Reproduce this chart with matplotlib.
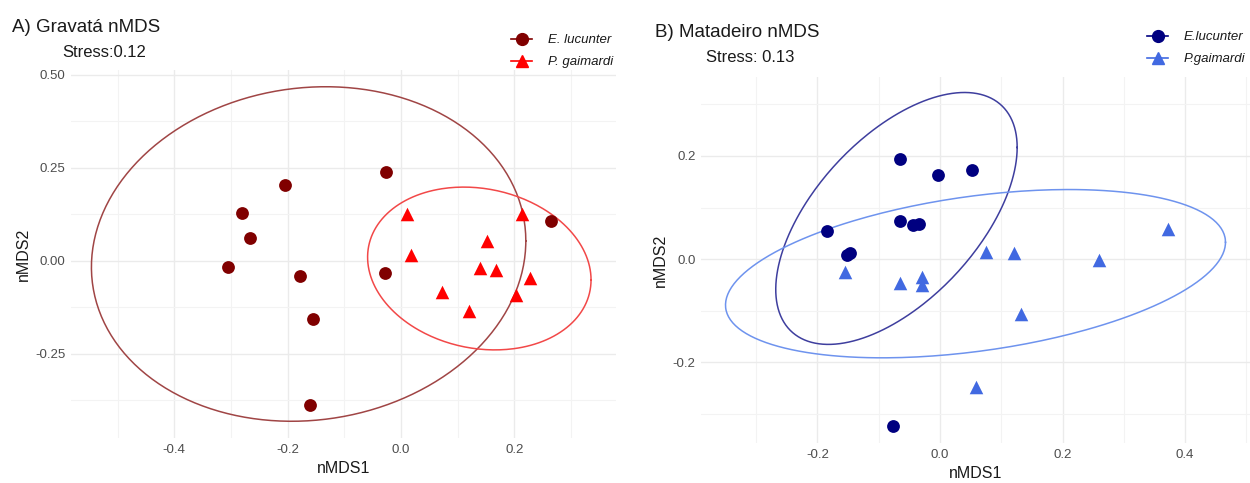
import numpy as np
import matplotlib
matplotlib.use('Agg')
import matplotlib.pyplot as plt
from matplotlib.lines import Line2D

plt.rcParams['font.family'] = ['Liberation Sans', 'DejaVu Sans']

# A) Gravatá
gra_eluc_x = [-0.026, -0.204, -0.281, -0.266, -0.305, -0.179, -0.028, -0.156, -0.161, 0.265]
gra_eluc_y = [0.238, 0.204, 0.129, 0.061, -0.016, -0.040, -0.034, -0.158, -0.387, 0.108]
gra_pgai_x = [0.010, 0.018, 0.152, 0.140, 0.167, 0.214, 0.228, 0.073, 0.203, 0.120]
gra_pgai_y = [0.125, 0.016, 0.052, -0.021, -0.024, 0.125, -0.047, -0.083, -0.092, -0.136]

# B) Matadeiro
mat_eluc_x = [-0.066, -0.003, 0.052, -0.066, -0.044, -0.035, -0.185, -0.152, -0.147, -0.077]
mat_eluc_y = [0.194, 0.164, 0.173, 0.074, 0.067, 0.069, 0.054, 0.008, 0.013, -0.324]
mat_pgai_x = [-0.155, -0.066, -0.030, -0.030, 0.075, 0.121, 0.259, 0.372, 0.133, 0.058]
mat_pgai_y = [-0.025, -0.047, -0.034, -0.049, 0.014, 0.012, -0.002, 0.058, -0.107, -0.248]

# ellipsid: keskpunkt x, keskpunkt y, pool laiust, pool kõrgust, ristliige
ell_gra_eluc = [-0.163, 0.018, 0.383, 0.450, 0.0135]
ell_gra_pgai = [0.138, -0.021, 0.197, 0.219, -0.006]
ell_mat_eluc = [-0.071, 0.079, 0.197, 0.244, 0.0271]
ell_mat_pgai = [0.058, -0.028, 0.408, 0.163, 0.0248]


def elipse(ax, par, farv):
    cx, cy, sx, sy, c = par
    L = np.linalg.cholesky(np.array([[sx ** 2, c], [c, sy ** 2]]))
    t = np.linspace(0, 2 * np.pi, 300)
    p = L @ np.vstack([np.cos(t), np.sin(t)])
    ax.plot(cx + p[0], cy + p[1], color=farv, lw=1.1, zorder=2)


def stiil(ax, xlim, ylim, xmaj, ymaj, ymin, xmin, yfmt):
    ax.set_xlim(*xlim)
    ax.set_ylim(*ylim)
    ax.set_xticks(xmaj)
    ax.set_yticks(ymaj)
    ax.set_xticks(xmin, minor=True)
    ax.set_yticks(ymin, minor=True)
    ax.set_yticklabels([yfmt.format(v) for v in ymaj])
    ax.set_xticklabels(['{:.1f}'.format(v) for v in xmaj])
    ax.grid(True, which='major', color='#EBEBEB', lw=1.0, zorder=0)
    ax.grid(True, which='minor', color='#F3F3F3', lw=0.8, zorder=0)
    ax.set_axisbelow(True)
    for s in ax.spines.values():
        s.set_visible(False)
    ax.tick_params(which='both', length=0, labelsize=9.5, labelcolor='#4D4D4D', pad=4)
    ax.set_xlabel('nMDS1', fontsize=11.5, color='#1A1A1A', labelpad=4)
    ax.set_ylabel('nMDS2', fontsize=11.5, color='#1A1A1A', labelpad=3)


fig = plt.figure(figsize=(12.5, 4.83), dpi=100)
ax1 = fig.add_axes([71 / 1250, 45 / 483, 545 / 1250, 368 / 483])
ax2 = fig.add_axes([701 / 1250, 40 / 483, 549 / 1250, 366 / 483])

# paneel A
elipse(ax1, ell_gra_eluc, '#A04545')
elipse(ax1, ell_gra_pgai, '#F24848')
ax1.scatter(gra_eluc_x, gra_eluc_y, s=85, marker='o', color='#800000', zorder=3, linewidths=0)
ax1.scatter(gra_pgai_x, gra_pgai_y, s=95, marker='^', color='#FF0000', zorder=3, linewidths=0)
stiil(ax1, (-0.582, 0.379), (-0.477, 0.513), [-0.4, -0.2, 0.0, 0.2], [-0.25, 0.0, 0.25, 0.50],
      [-0.375, -0.125, 0.125, 0.375], [-0.5, -0.3, -0.1, 0.1, 0.3], '{:.2f}')

# paneel B
elipse(ax2, ell_mat_eluc, '#3E3E9E')
elipse(ax2, ell_mat_pgai, '#6E93EE')
ax2.scatter(mat_eluc_x, mat_eluc_y, s=85, marker='o', color='#000080', zorder=3, linewidths=0)
ax2.scatter(mat_pgai_x, mat_pgai_y, s=95, marker='^', color='#4169E1', zorder=3, linewidths=0)
stiil(ax2, (-0.390, 0.506), (-0.356, 0.353), [-0.2, 0.0, 0.2, 0.4], [-0.2, 0.0, 0.2],
      [-0.3, -0.1, 0.1, 0.3], [-0.3, -0.1, 0.1, 0.3, 0.5], '{:.1f}')

# pealkirjad
fig.text(12 / 1250, 1 - 32 / 483, 'A) Gravatá nMDS', fontsize=13.5, color='#1A1A1A')
fig.text(62 / 1250, 1 - 57 / 483, 'Stress:0.12', fontsize=12, color='#1A1A1A')
fig.text(655 / 1250, 1 - 37 / 483, 'B) Matadeiro nMDS', fontsize=13.5, color='#1A1A1A')
fig.text(706 / 1250, 1 - 62 / 483, 'Stress: 0.13', fontsize=12, color='#1A1A1A')

# legendid
leg_a = [Line2D([], [], color='#800000', marker='o', ms=8.5, lw=1.2, label='E. lucunter'),
         Line2D([], [], color='#FF0000', marker='^', ms=9, lw=1.2, label='P. gaimardi')]
leg_b = [Line2D([], [], color='#000080', marker='o', ms=8.5, lw=1.2, label='E.lucunter'),
         Line2D([], [], color='#4169E1', marker='^', ms=9, lw=1.2, label='P.gaimardi')]
for hand, x0, y0 in [(leg_a, 511, 34), (leg_b, 1147, 31)]:
    lg = fig.legend(handles=hand, loc='upper left', bbox_to_anchor=(x0 / 1250, 1 - y0 / 483),
                    frameon=False, fontsize=9.5, handlelength=1.6, handletextpad=1.2,
                    labelspacing=0.75, borderpad=0, borderaxespad=0)
    for t in lg.get_texts():
        t.set_fontstyle('italic')
        t.set_color('#1A1A1A')

fig.savefig('out.png', dpi=100)
